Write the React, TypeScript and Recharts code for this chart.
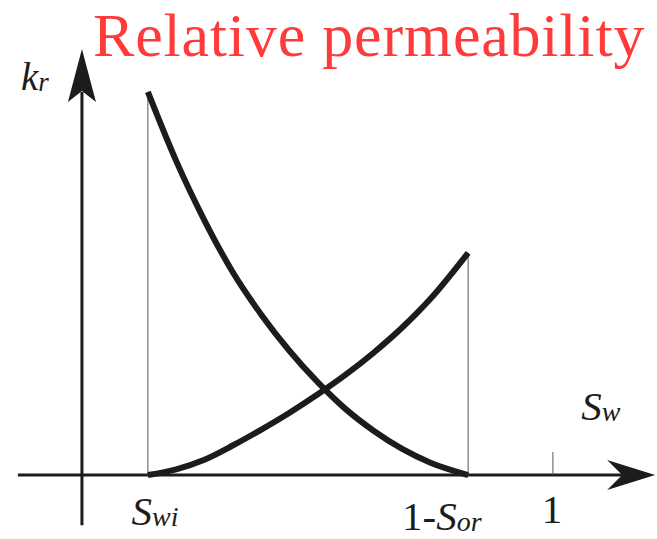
import { ComposedChart, Line, XAxis, YAxis, ReferenceLine, ReferenceDot } from 'recharts'

// water saturation (Sw) sampled along the curves
const sw = [0.14, 0.2, 0.26, 0.32, 0.38, 0.44, 0.5, 0.56, 0.62, 0.68, 0.74, 0.82]
// oil relative permeability (decreasing)
const kro = [1.0, 0.82, 0.665, 0.53, 0.42, 0.325, 0.243, 0.172, 0.115, 0.068, 0.032, 0]
// water relative permeability (increasing)
const krw = [0, 0.015, 0.04, 0.077, 0.118, 0.162, 0.21, 0.262, 0.32, 0.385, 0.46, 0.58]

const swi = 0.14
const oneMinusSor = 0.82
const krwEnd = 0.58
const kroEnd = 1.0

const data = sw.map((s, i) => ({ sw: s, kro: kro[i], krw: krw[i] }))

const INK = '#1c1c1c'
const SERIF = 'Liberation Serif, serif'

type ArrowProps = { cx?: number; cy?: number }

const ArrowRight = ({ cx = 0, cy = 0 }: ArrowProps) => (
  <polygon
    points={`${cx},${cy} ${cx - 48},${cy - 15} ${cx - 33},${cy} ${cx - 48},${cy + 15}`}
    fill={INK}
  />
)

const ArrowUp = ({ cx = 0, cy = 0 }: ArrowProps) => (
  <polygon
    points={`${cx},${cy} ${cx - 14},${cy + 53} ${cx},${cy + 42} ${cx + 14},${cy + 53}`}
    fill={INK}
  />
)

// label with italic main symbol + subscript
const subLabel = (main: string, sub: string, pre = '', size = 41, subSize = 28) =>
  ({ cx = 0, cy = 0 }: ArrowProps) => (
    <text x={cx} y={cy} textAnchor="middle" style={{ fontFamily: SERIF, fontSize: size }} fill={INK}>
      {pre && <tspan>{pre}</tspan>}
      <tspan fontStyle="italic">{main}</tspan>
      {sub && (
        <tspan fontStyle="italic" style={{ fontSize: subSize }} dy={1}>
          {sub}
        </tspan>
      )}
    </text>
  )

export default function App() {
  return (
    <div style={{ position: 'absolute', left: 0, top: 0, width: 657, height: 539, background: '#fff' }}>
      <ComposedChart width={657} height={539} data={data} margin={{ top: 0, right: 0, bottom: 0, left: 0 }}>
        <XAxis type="number" dataKey="sw" domain={[-0.174, 1.221]} hide allowDataOverflow />
        <YAxis type="number" domain={[-0.167, 1.24]} hide allowDataOverflow />

        {/* axes */}
        <ReferenceLine segment={[{ x: -0.136, y: 0 }, { x: 1.16, y: 0 }]} stroke={INK} strokeWidth={3} ifOverflow="visible" />
        <ReferenceLine segment={[{ x: 0, y: -0.131 }, { x: 0, y: 1.0 }]} stroke={INK} strokeWidth={3} ifOverflow="visible" />
        <ReferenceDot x={1.217} y={0} r={0} shape={ArrowRight} ifOverflow="visible" />
        <ReferenceDot x={0} y={1.112} r={0} shape={ArrowUp} ifOverflow="visible" />

        {/* end point guides */}
        <ReferenceLine segment={[{ x: swi, y: 0 }, { x: swi, y: kroEnd }]} stroke="#555" strokeWidth={1} ifOverflow="visible" />
        <ReferenceLine segment={[{ x: oneMinusSor, y: 0 }, { x: oneMinusSor, y: krwEnd }]} stroke="#555" strokeWidth={1} ifOverflow="visible" />
        <ReferenceLine segment={[{ x: 1, y: 0 }, { x: 1, y: 0.06 }]} stroke="#555" strokeWidth={1} ifOverflow="visible" />

        <Line type="monotone" dataKey="kro" stroke={INK} strokeWidth={6} dot={false} activeDot={false} isAnimationActive={false} />
        <Line type="monotone" dataKey="krw" stroke={INK} strokeWidth={6} dot={false} activeDot={false} isAnimationActive={false} />

        {/* labels */}
        <ReferenceDot x={-0.1} y={1.005} r={0} shape={subLabel('k', 'r', '', 39, 27)} ifOverflow="visible" />
        <ReferenceDot x={1.102} y={0.144} r={0} shape={subLabel('S', 'w')} ifOverflow="visible" />
        <ReferenceDot x={0.155} y={-0.13} r={0} shape={subLabel('S', 'wi')} ifOverflow="visible" />
        <ReferenceDot x={0.764} y={-0.143} r={0} shape={subLabel('S', 'or', '1-')} ifOverflow="visible" />
        <ReferenceDot x={0.998} y={-0.125} r={0} shape={subLabel('', '', '1')} ifOverflow="visible" />
      </ComposedChart>
      <svg width={657} height={70} style={{ position: 'absolute', left: 0, top: 0, pointerEvents: 'none' }}>
        <text x={93} y={56} style={{ fontFamily: SERIF, fontSize: 62, letterSpacing: 0.8 }} fill="#ff3a3a">
          Relative permeability
        </text>
      </svg>
    </div>
  )
}
